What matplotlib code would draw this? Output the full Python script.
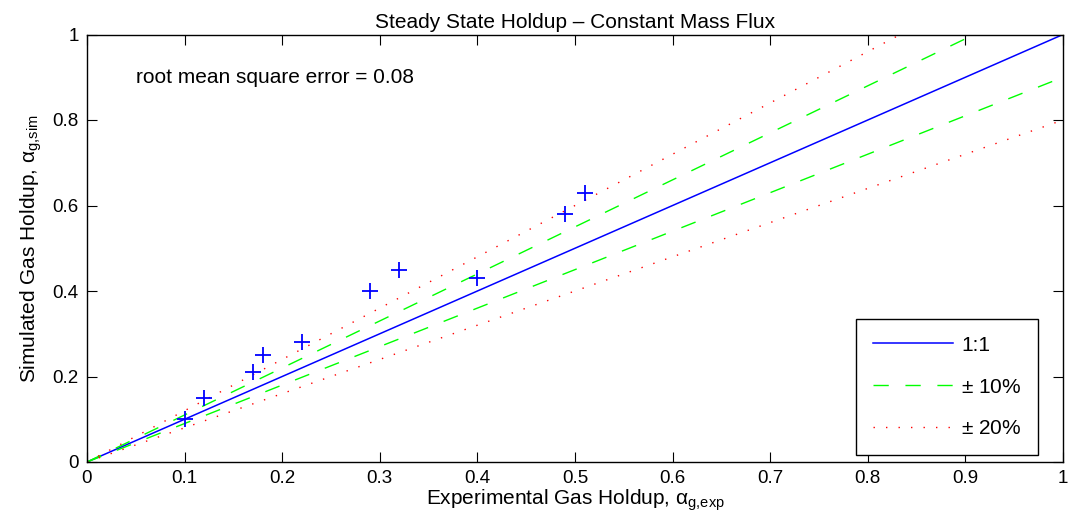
import matplotlib
matplotlib.use("Agg")
import matplotlib.pyplot as plt
import numpy as np

plt.rcParams['font.family'] = ['Liberation Sans', 'DejaVu Sans']
plt.rcParams['mathtext.fontset'] = 'custom'
plt.rcParams['mathtext.rm'] = 'Liberation Sans'
plt.rcParams['mathtext.it'] = 'Liberation Sans:italic'

# measured vs simulated gas holdup
alpha_exp = [0.10, 0.12, 0.17, 0.18, 0.22, 0.29, 0.32, 0.40, 0.49, 0.51]
alpha_sim = [0.10, 0.15, 0.21, 0.25, 0.28, 0.40, 0.45, 0.43, 0.58, 0.63]

# reference lines: 1:1, +-10%, +-20%
line_x = [0.0, 1.0]
ticks = [0, 0.1, 0.2, 0.3, 0.4, 0.5, 0.6, 0.7, 0.8, 0.9, 1]
tick_labels = ['0', '0.1', '0.2', '0.3', '0.4', '0.5', '0.6', '0.7', '0.8', '0.9', '1']
ytick_vals = [0, 0.2, 0.4, 0.6, 0.8, 1]
ytick_labels = ['0', '0.2', '0.4', '0.6', '0.8', '1']

fig = plt.figure(figsize=(10.75, 5.31), dpi=100)
ax = fig.add_axes([87/1075, 69/531, 976/1075, 427.5/531])

x = np.array(line_x)
ax.plot(x, x, color=(0, 0, 1), lw=1.1, label='1:1')
ax.plot(x, 1.1*x, color=(0, 1, 0), lw=1.0, dashes=(11, 12), label=r'$\pm$ 10%')
ax.plot(x, 0.9*x, color=(0, 1, 0), lw=1.0, dashes=(11, 12))
ax.plot(x, 1.2*x, color=(1, 0, 0), lw=1.0, dashes=(1, 8), label=r'$\pm$ 20%')
ax.plot(x, 0.8*x, color=(1, 0, 0), lw=1.0, dashes=(1, 8))
ax.plot(alpha_exp, alpha_sim, '+', color=(0, 0, 1), ms=12, mew=1.3, ls='none')

ax.set_xlim(0, 1)
ax.set_ylim(0, 1)
ax.set_xticks(ticks)
ax.set_xticklabels(tick_labels)
ax.set_yticks(ytick_vals)
ax.set_yticklabels(ytick_labels)
ax.tick_params(direction='in', top=True, right=True, length=7, width=0.8, labelsize=13.5, pad=6)
for s in ax.spines.values():
    s.set_linewidth(1.0)

ax.set_xlabel('Experimental Gas Holdup, $\\mathrm{α_{g{,}exp}}$', fontsize=15, labelpad=0)
ax.set_ylabel('Simulated Gas Holdup, $\\mathrm{α_{g{,}sim}}$', fontsize=15, labelpad=6)
ax.set_title('Steady State Holdup \u2013 Constant Mass Flux', fontsize=15, pad=5)
ax.text(0.05, 0.9, 'root mean square error = 0.08', fontsize=15, va='center')

leg = ax.legend(loc='lower left', bbox_to_anchor=(0.788, 0.016), fontsize=15,
                fancybox=False, framealpha=1, edgecolor='black', handlelength=3.85,
                handletextpad=0.4, labelspacing=1.1, borderpad=0.8, borderaxespad=0)
leg.get_frame().set_linewidth(1.0)

fig.savefig('out.png', dpi=100)
